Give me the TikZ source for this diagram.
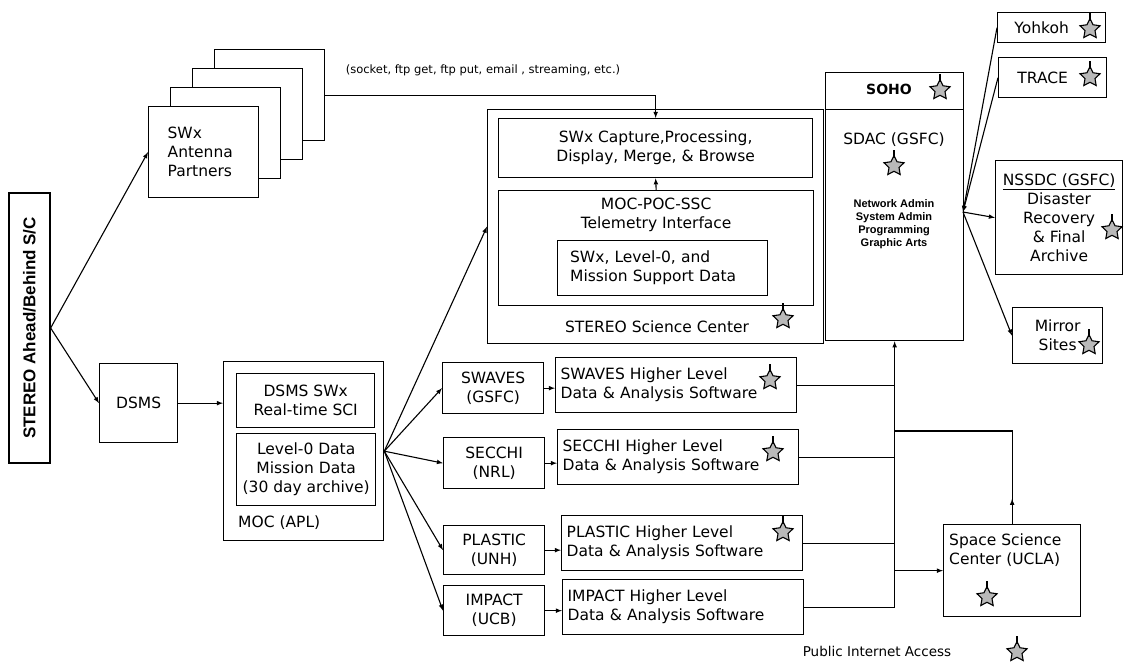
\documentclass[tikz,border=0pt]{standalone}
\usepackage{fontspec}
\setmainfont{DejaVu Sans}
\newfontfamily\labelfont{Liberation Sans}
\usetikzlibrary{shapes.geometric, arrows, positioning, calc, decorations.markings}

\tikzset{
    box/.style={draw, line width=1.3pt, fill=white, align=center, inner sep=1pt, anchor=north west, font=\fontsize{15.5}{19}\selectfont},
    wh/.style 2 args={minimum width=#1, minimum height=#2},
    hlbox/.style={box, text width=231pt, align=left, inner xsep=5pt, minimum height=55pt},
    txt/.style={inner sep=0pt, align=center, font=\fontsize{15.5}{19}\selectfont},
    arrow/.style={-latex, line width=1.1pt},
    link/.style={line width=1.1pt},
    midarrow/.style={postaction={decorate}, decoration={markings, mark=at position #1 with {\arrow{latex}}}},
    sstar/.style={star, star points=5, star point ratio=2.0, draw, fill=gray!55, line width=1.1pt, minimum size=21pt, inner sep=0pt, outer sep=0pt,
        append after command={($(\tikzlastnode.center)!0.8!(\tikzlastnode.outer point 1)$) edge[line width=1.1pt] ++(0,-8)}}
}

\begin{document}
\begin{tikzpicture}[x=1pt, y=-1pt]
    \useasboundingbox (0,0) rectangle (1127,665);

    \node[box, anchor=center, rotate=90, wh={270pt}{41pt}, font=\labelfont\bfseries\fontsize{17}{20}\selectfont] (sc) at (29.5,328) {STEREO Ahead/Behind S/C};

    % antenna partners
    \node[box, wh={110pt}{91pt}] (ant4) at (214,49) {};
    \node[box, wh={110pt}{91pt}] (ant3) at (192,68) {};
    \node[box, wh={110pt}{91pt}] (ant2) at (170,87) {};
    \node[box, wh={110pt}{91pt}, text width=72pt, align=left] (ant) at (148,106) {SWx\\Antenna\\Partners};
    \node[txt, font=\fontsize{11.5}{14}\selectfont] (proto) at (483,70) {(socket, ftp get, ftp put, email , streaming, etc.)};

    % STEREO science center
    \node[box, wh={336pt}{234pt}] (ssc) at (487,109) {};
    \node[box, wh={314pt}{59pt}] (cap) at (498,118) {SWx Capture,Processing,\\Display, Merge, \& Browse};
    \node[box, wh={315pt}{115pt}] (tif) at (498,190) {};
    \node[txt, anchor=north] (tifl) at ($(tif.north)+(0,8)$) {MOC-POC-SSC\\Telemetry Interface};
    \node[box, wh={210pt}{55pt}, text width=185pt, align=left] (sdata) at (557,240) {SWx, Level-0, and\\Mission Support Data};
    \node[txt] (sscl) at (657,327) {STEREO Science Center};
    \node[sstar] (s1) at (783,319) {};
    \draw[arrow] (tif.north) -- (cap.south);
    \draw[arrow] (ant4.east) -| (cap.north);

    % SOHO / SDAC
    \node[box, wh={138pt}{37pt}] (soho) at (825,72) {};
    \node[txt, font=\bfseries\fontsize{14}{17}\selectfont] (sohol) at (889,89) {SOHO};
    \node[sstar] (s2) at (940,90) {};
    \node[box, wh={138pt}{231pt}] (sdac) at (825,109) {};
    \node[txt] (sdacl) at (894,140) {SDAC (GSFC)};
    \node[sstar] (s3) at (894,166) {};
    \node[txt, font=\labelfont\bfseries\fontsize{11}{12.8}\selectfont] (staff) at (894,224) {Network Admin\\System Admin\\Programming\\Graphic Arts};

    % archives and partners
    \node[box, wh={108pt}{30pt}] (yoh) at (997,12) {Yohkoh\hspace{20pt}};
    \node[sstar] (s4) at (1090,29) {};
    \node[box, wh={108pt}{40pt}] (trace) at (998,57) {TRACE\hspace{20pt}};
    \node[sstar] (s5) at (1090,77) {};
    \node[box, wh={127pt}{114pt}] (nssdc) at (995,160) {\underline{NSSDC (GSFC)}\\Disaster\\Recovery\\\& Final\\Archive};
    \node[sstar] (s6) at (1112,230) {};
    \node[box, wh={90pt}{56pt}] (mirror) at (1012,307) {Mirror\\Sites};
    \node[sstar] (s7) at (1089,345) {};
    \coordinate (hub) at (963,212);
    \draw[arrow] (yoh.west) -- (hub);
    \draw[arrow] (trace.west) -- (hub);
    \draw[arrow] (hub) -- (nssdc.west);
    \draw[arrow] (hub) -- (mirror.west);

    % ground segment
    \node[box, wh={78pt}{79pt}] (dsms) at (99,363) {DSMS};
    \node[box, wh={160pt}{179pt}] (moc) at (223,361) {};
    \node[box, wh={138pt}{54pt}] (rt) at (236,373) {DSMS SWx\\Real-time SCI};
    \node[box, wh={139pt}{72pt}] (lz) at (236,433) {Level-0 Data\\Mission Data\\(30 day archive)};
    \node[txt, anchor=west] (mocl) at (238,523) {MOC (APL)};
    \draw[arrow] (sc.south) -- (ant.west);
    \draw[arrow] (sc.south) -- (dsms.west);
    \draw[arrow] (dsms.east) -- (dsms.east -| moc.west);
    \draw[arrow] (moc.east) -- (ssc.west);

    % instruments
    \node[box, wh={101pt}{51pt}] (swaves) at (442,362) {SWAVES\\(GSFC)};
    \node[box, wh={101pt}{51pt}] (secchi) at (443,437) {SECCHI\\(NRL)};
    \node[box, wh={101pt}{49pt}] (plastic) at (443,525) {PLASTIC\\(UNH)};
    \node[box, wh={101pt}{50pt}] (impact) at (443,585) {IMPACT\\(UCB)};
    \node[hlbox] (swhl) at (555,357) {SWAVES Higher Level\\Data \& Analysis Software};
    \node[hlbox] (sechl) at (557,429) {SECCHI Higher Level\\Data \& Analysis Software};
    \node[hlbox] (plhl) at (561,515) {PLASTIC Higher Level\\Data \& Analysis Software};
    \node[hlbox] (imhl) at (562,579) {IMPACT Higher Level\\Data \& Analysis Software};
    \node[sstar] (s8) at (770,380) {};
    \node[sstar] (s9) at (773,452) {};
    \node[sstar] (s10) at (783,532) {};
    \foreach \n in {swaves, secchi, plastic, impact}
        \draw[arrow] (moc.east) -- (\n.west);
    \foreach \a/\b in {swaves/swhl, secchi/sechl, plastic/plhl, impact/imhl}
        \draw[arrow] (\a.east) -- (\a.east -| \b.west);

    % distribution bus
    \draw[arrow] (imhl.east) -| (sdac.south);
    \foreach \b in {swhl, sechl, plhl}
        \draw[link] (\b.east) -- (\b.east -| sdac.south);
    \node[box, wh={137pt}{92pt}] (ucla) at (943,524) {};
    \node[txt, anchor=north west, align=left] (uclal) at ($(ucla.north west)+(6,10)$) {Space Science\\Center (UCLA)};
    \node[sstar] (s11) at (987,597) {};
    \coordinate (busj) at (894,431);
    \draw[arrow] (sdac.south |- ucla.west) -- (ucla.west);
    \draw[link, midarrow=0.12] (ucla.north) |- (busj);

    \node[txt, font=\fontsize{13.5}{16}\selectfont] (legend) at (877,651) {Public Internet Access};
    \node[sstar] (s12) at (1017,652) {};
\end{tikzpicture}
\end{document}
